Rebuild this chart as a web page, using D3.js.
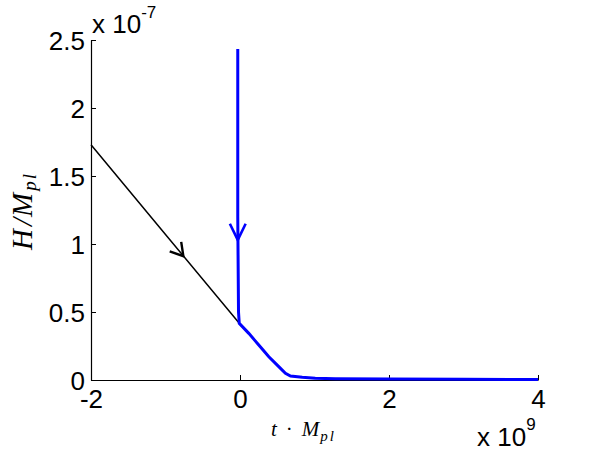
<!DOCTYPE html>
<html>
<head>
<meta charset="utf-8">
<script src="https://cdn.jsdelivr.net/npm/d3@7"></script>
<style>
  html, body { margin: 0; padding: 0; background: #fff; }
  svg { display: block; }
  .tick text { font-family: "Liberation Sans", Arial, sans-serif; }
</style>
</head>
<body>
<svg id="chart" width="593" height="450"></svg>
<script>
// ---- data (x in units of 1e9, y in units of 1e-7) ----
const xTicks = [-2, 0, 2, 4];
const yTicks = [0, 0.5, 1, 1.5, 2, 2.5];
const xTickLabels = ["-2", "0", "2", "4"];
const yTickLabels = ["0", "0.5", "1", "1.5", "2", "2.5"];

// black trajectory
const blackX = [-2, -1, 0.01];
const blackY = [1.73, 1.07, 0.405];

// blue trajectory
const blueX = [-0.03, -0.03, -0.02, -0.01, 0.118, 0.252, 0.387, 0.52, 0.61, 0.678, 0.835, 1.01, 1.28, 2, 3, 4];
const blueY = [2.434, 1.2, 0.5, 0.417, 0.343, 0.257, 0.171, 0.098, 0.049, 0.029, 0.020, 0.0125, 0.01, 0.007, 0.005, 0.004];

// arrow tips (data coordinates)
const blackArrow = [-0.76, 0.91];
const blueArrow = [-0.03, 1.03];

// ---- layout ----
const svg = d3.select("#chart");
const x = d3.scaleLinear().domain([-2, 4]).range([91, 538]);
const y = d3.scaleLinear().domain([0, 2.5]).range([380, 40]);

// axes
const xAxis = d3.axisBottom(x).tickValues(xTicks)
  .tickFormat((d, i) => xTickLabels[i]).tickSizeInner(-5).tickSizeOuter(0).tickPadding(13);
const yAxis = d3.axisLeft(y).tickValues(yTicks)
  .tickFormat((d, i) => yTickLabels[i]).tickSizeInner(-5).tickSizeOuter(0).tickPadding(6);

const gx = svg.append("g").attr("transform", "translate(0,380)").call(xAxis);
const gy = svg.append("g").attr("transform", "translate(91,0)").call(yAxis);
[gx, gy].forEach(g => {
  g.select(".domain").attr("stroke", "#000").attr("stroke-width", 1.2);
  g.selectAll(".tick line").attr("stroke", "#000").attr("stroke-width", 1);
  g.selectAll(".tick text").attr("fill", "#000").attr("font-size", 26);
});
gx.selectAll(".tick text").attr("dy", "0.71em").attr("y", 10);
gy.selectAll(".tick text").attr("dy", "0.36em");

// lines
const line = d3.line().x(d => x(d[0])).y(d => y(d[1]));
const blackData = blackX.map((v, i) => [v, blackY[i]]);
const blueData = blueX.map((v, i) => [v, blueY[i]]);

svg.append("path").datum(blackData).attr("d", line)
  .attr("fill", "none").attr("stroke", "#000").attr("stroke-width", 1.5);
svg.append("path").datum(blueData).attr("d", line)
  .attr("fill", "none").attr("stroke", "#0000ff").attr("stroke-width", 3);

// arrowheads
function arrowHead(tip, dirFrom, len, halfAngleDeg, color, width) {
  const tx = x(tip[0]), ty = y(tip[1]);
  const fx = x(dirFrom[0]), fy = y(dirFrom[1]);
  const base = Math.atan2(fy - ty, fx - tx);
  const a = halfAngleDeg * Math.PI / 180;
  const p1 = [tx + len * Math.cos(base + a), ty + len * Math.sin(base + a)];
  const p2 = [tx + len * Math.cos(base - a), ty + len * Math.sin(base - a)];
  svg.append("path")
    .attr("d", `M${p1[0]},${p1[1]}L${tx},${ty}L${p2[0]},${p2[1]}`)
    .attr("fill", "none").attr("stroke", color).attr("stroke-width", width)
    .attr("stroke-linejoin", "miter");
}
arrowHead(blackArrow, [blackX[0], blackY[0]], 14.5, 31, "#000", 2.4);
arrowHead(blueArrow, [blueX[0], blueY[0]], 18, 26, "#0000ff", 2.6);

// exponent multipliers
const yMult = svg.append("text").attr("x", 92).attr("y", 33)
  .attr("font-family", "Liberation Sans, Arial, sans-serif").attr("font-size", 26).attr("fill", "#000");
yMult.append("tspan").text("x 10");
yMult.append("tspan").attr("font-size", 17).attr("dy", -15).text("-7");

const xMult = svg.append("text").attr("x", 477).attr("y", 446)
  .attr("font-family", "Liberation Sans, Arial, sans-serif").attr("font-size", 26).attr("fill", "#000");
xMult.append("tspan").text("x 10");
xMult.append("tspan").attr("font-size", 17).attr("dy", -16).text("9");

// axis titles (TeX-like italic serif)
const serif = "Liberation Serif, 'DejaVu Serif', serif";
const xt = svg.append("text").attr("x", 271).attr("y", 436)
  .attr("font-family", serif).attr("font-style", "italic")
  .attr("font-size", 21).attr("fill", "#000");
xt.append("tspan").text("t");
xt.append("tspan").attr("dx", 9).attr("font-style", "normal").text("·");
xt.append("tspan").attr("dx", 9).text("M");
xt.append("tspan").attr("font-size", 15).attr("dy", 5).attr("dx", 1).attr("letter-spacing", 2).text("pl");

const yt = svg.append("text").attr("transform", "translate(32,250) rotate(-90)")
  .attr("font-family", serif).attr("font-style", "italic")
  .attr("font-size", 29).attr("fill", "#000");
yt.append("tspan").text("H");
yt.append("tspan").attr("dx", 3).text("/");
yt.append("tspan").attr("dx", 1).text("M");
yt.append("tspan").attr("font-size", 19).attr("dy", 4).attr("dx", 2).attr("letter-spacing", 2).text("pl");
</script>
</body>
</html>
